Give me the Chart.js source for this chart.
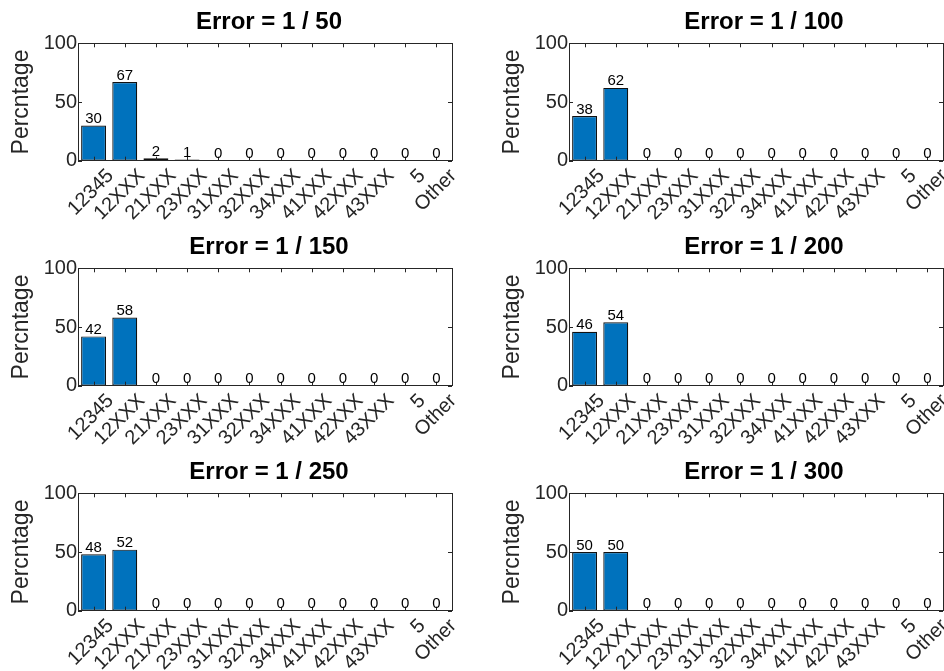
<!DOCTYPE html>
<html>
<head>
<meta charset="utf-8">
<script src="https://cdn.jsdelivr.net/npm/chart.js@4/dist/chart.umd.min.js"></script>
<style>
  html, body { margin: 0; padding: 0; background: #fff; }
  body { width: 944px; height: 671px; overflow: hidden; position: relative; }
  canvas { position: absolute; }
</style>
</head>
<body>
<canvas id="c0" width="470" height="225" style="left:0px;top:0px"></canvas>
<canvas id="c1" width="470" height="225" style="left:491px;top:0px"></canvas>
<canvas id="c2" width="470" height="225" style="left:0px;top:225px"></canvas>
<canvas id="c3" width="470" height="225" style="left:491px;top:225px"></canvas>
<canvas id="c4" width="470" height="225" style="left:0px;top:450px"></canvas>
<canvas id="c5" width="470" height="225" style="left:491px;top:450px"></canvas>
<script>
const categories = ["12345", "12XXX", "21XXX", "23XXX", "31XXX", "32XXX", "34XXX", "41XXX", "42XXX", "43XXX", "5", "Other"];

const err50  = [30, 67, 2, 1, 0, 0, 0, 0, 0, 0, 0, 0];
const err100 = [38, 62, 0, 0, 0, 0, 0, 0, 0, 0, 0, 0];
const err150 = [42, 58, 0, 0, 0, 0, 0, 0, 0, 0, 0, 0];
const err200 = [46, 54, 0, 0, 0, 0, 0, 0, 0, 0, 0, 0];
const err250 = [48, 52, 0, 0, 0, 0, 0, 0, 0, 0, 0, 0];
const err300 = [50, 50, 0, 0, 0, 0, 0, 0, 0, 0, 0, 0];

const titles = ["Error = 1 / 50", "Error = 1 / 100", "Error = 1 / 150", "Error = 1 / 200", "Error = 1 / 250", "Error = 1 / 300"];
const series = [err50, err100, err150, err200, err250, err300];
const yTicks = [0, 50, 100];

const FONT = "'Liberation Sans', Arial, Helvetica, sans-serif";
const AXIS = "#262626";

// title, matlab style box + inward ticks, then value labels on top
const boxPlugin = {
  id: "box",
  afterDatasetsDraw(chart, args, opts) {
    const { ctx, chartArea: a, scales } = chart;
    const xs = scales.x, ys = scales.y;
    ctx.save();

    ctx.fillStyle = "#000";
    ctx.font = "bold 24px " + FONT;
    ctx.textAlign = "center";
    ctx.textBaseline = "middle";
    ctx.fillText(opts.title, (a.left + a.right) / 2 + opts.shift, a.top - 20.5);

    ctx.strokeStyle = AXIS;
    ctx.lineWidth = 1;
    ctx.beginPath();
    xs.ticks.forEach((t, i) => {
      const px = Math.round(xs.getPixelForTick(i)) + 0.5;
      ctx.moveTo(px, a.bottom); ctx.lineTo(px, a.bottom - 4);
      ctx.moveTo(px, a.top); ctx.lineTo(px, a.top + 4);
    });
    yTicks.forEach(v => {
      const py = Math.round(ys.getPixelForValue(v)) + 0.5;
      ctx.moveTo(a.left, py); ctx.lineTo(a.left + 4, py);
      ctx.moveTo(a.right, py); ctx.lineTo(a.right - 4, py);
    });
    ctx.stroke();
    ctx.strokeRect(Math.round(a.left) + 0.5, Math.round(a.top) + 0.5,
      Math.round(a.right - a.left), Math.round(a.bottom - a.top));

    // value labels
    ctx.fillStyle = "#000";
    ctx.font = "15px " + FONT;
    ctx.textAlign = "center";
    ctx.textBaseline = "alphabetic";
    const meta = chart.getDatasetMeta(0);
    const vals = chart.data.datasets[0].data;
    meta.data.forEach((bar, i) => {
      ctx.fillText(String(vals[i]), bar.x, bar.y - 2.5);
    });
    ctx.restore();
  }
};

series.forEach((vals, k) => {
  const ctx = document.getElementById("c" + k).getContext("2d");
  new Chart(ctx, {
    type: "bar",
    data: {
      labels: categories,
      datasets: [{
        data: vals,
        backgroundColor: "#0072BD",
        borderColor: "#111",
        borderWidth: 1.2,
        borderSkipped: false,
        barPercentage: 0.8,
        categoryPercentage: 1.0,
      }],
    },
    options: {
      responsive: false,
      animation: false,
      devicePixelRatio: 1,
      layout: { padding: { left: 0, right: 18, top: 43.3, bottom: 0 } },
      plugins: {
        legend: { display: false },
        tooltip: { enabled: false },
        title: { display: false },
        box: { title: titles[k], shift: k % 2 ? 8 : 4 },
      },
      scales: {
        x: {
          type: "category",
          grid: { display: false, drawTicks: false },
          border: { display: false },
          ticks: {
            color: AXIS,
            font: { family: FONT, size: 20 },
            maxRotation: 45,
            minRotation: 45,
            autoSkip: false,
            padding: 3.5,
            labelOffset: 17,
          },
          afterFit(scale) {
            scale.height = 64.3;
            scale.paddingLeft = 0;
            scale.paddingRight = 0;
          },
        },
        y: {
          min: 0,
          max: 100,
          grid: { display: false, drawTicks: false },
          border: { display: false },
          ticks: {
            stepSize: 50,
            color: AXIS,
            font: { family: FONT, size: 20 },
            padding: 1,
          },
          title: {
            display: true,
            text: "Percntage",
            color: AXIS,
            font: { family: FONT, size: 23 },
            padding: { top: 8, bottom: 0 },
          },
          afterFit(scale) {
            scale.width = 78;
            scale.paddingTop = 0;
            scale.paddingBottom = 0;
          },
        },
      },
    },
    plugins: [boxPlugin],
  });
});
</script>
</body>
</html>
